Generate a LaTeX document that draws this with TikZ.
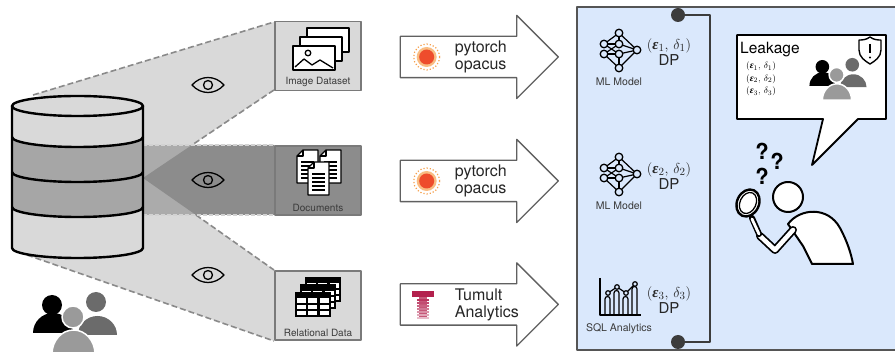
\documentclass[tikz,border=0pt]{standalone}
\usepackage{amsmath}
\usepackage{fontspec}
\setmainfont{TeX Gyre Heros}
\newfontfamily\greekserif{Liberation Serif}
\usetikzlibrary{arrows.meta,positioning,shapes.arrows}

\definecolor{paneblue}{HTML}{DAE8FC}
\definecolor{paneedge}{HTML}{555555}
\definecolor{funnellight}{HTML}{D9D9D9}
\definecolor{funnelmid}{HTML}{ABABAB}
\definecolor{funneldark}{HTML}{8C8C8C}
\definecolor{banddark}{HTML}{A6A6A6}
\definecolor{boxedge}{HTML}{7A7A7A}
\definecolor{dashgray}{HTML}{8A8A8A}
\definecolor{torchred}{HTML}{EE4C2C}
\definecolor{torchring}{HTML}{F6A04D}
\definecolor{tumultred}{HTML}{B3204D}
\definecolor{labelgray}{HTML}{3A3A3A}
\definecolor{bracketgray}{HTML}{3C3C3C}
\definecolor{crowddark}{HTML}{6B6B6B}
\definecolor{crowdmid}{HTML}{9A9A9A}

\newcommand{\epsdelta}[1]{$($\hbox{\greekserif\bfseries\itshape ε}$_{#1},\,\delta_{#1})$}

\tikzset{
  leakpicture/.style={x=1pt, y=-1pt, line join=round},
  funnelline/.style={draw=dashgray, line width=1.6pt, dash pattern=on 6pt off 3pt},
  splitline/.style={draw=gray!35, line width=1.4pt, dash pattern=on 4pt off 2pt},
  dbline/.style={draw=black, line width=2.4pt},
  srcbox/.style={draw=boxedge, line width=1.6pt, minimum width=86pt, minimum height=69pt, inner sep=0pt},
  srclabel/.style={font=\fontsize{10}{11}\selectfont, text=labelgray, inner sep=1pt},
  iconline/.style={draw=black, line width=1.4pt, fill=white},
  dparrow/.style={single arrow, draw=gray!75!black, fill=white, line width=1.3pt, minimum height=158pt, single arrow head extend=21pt, single arrow tip angle=90, inner xsep=0pt, inner ysep=20pt},
  toolname/.style={font=\fontsize{16}{17}\selectfont, align=left, anchor=west, inner sep=0pt, text=black!85},
  dplabel/.style={font=\fontsize{15}{16}\selectfont, align=center, inner sep=0pt, text=black!85},
  resname/.style={font=\fontsize{10.5}{12}\selectfont, text=labelgray, inner sep=0pt},
  bracketline/.style={draw=bracketgray, line width=2pt},
  askmark/.style={font=\fontsize{22}{22}\selectfont\bfseries, inner sep=0pt},
  eyeicon/.pic={
    \draw[line width=1.3pt] (-16,0) .. controls (-7,-10) and (7,-10) .. (16,0) .. controls (7,10) and (-7,10) .. (-16,0) -- cycle;
    \draw[line width=1.3pt] (0,0) circle (4.5);
  },
  crowd/.pic={
    \fill[black] (-23,-15) circle (10);
    \fill[black] (-42,13) arc[start angle=180, end angle=360, x radius=20, y radius=20] -- cycle;
    \fill[crowddark] (21,-18) circle (10);
    \fill[crowddark] (3,15) arc[start angle=180, end angle=360, x radius=19.5, y radius=19] -- cycle;
    \filldraw[crowdmid, draw=white, line width=1.5pt] (-23,34) arc[start angle=180, end angle=360, x radius=21.5, y radius=24] -- cycle;
    \filldraw[crowdmid, draw=white, line width=1.5pt] (-2,-3) circle (11);
  },
  torchlogo/.pic={
    \draw[torchring, dotted, line width=1.2pt] (0,0) circle (13);
    \fill[torchring!70] (0,0) circle (10);
    \fill[torchred] (0,0) circle (7.5);
  },
  tumultlogo/.pic={
    \fill[tumultred] (-11,-13) rectangle (11,-7);
    \fill[tumultred!75] (-4,-7) rectangle (4,14);
    \foreach \k/\tint in {0/90,1/80,2/70,3/60,4/50,5/40,6/30}
      \fill[tumultred!\tint] (-6,-5+3*\k) rectangle (6,-3.5+3*\k);
  },
  imgicon/.pic={
    \foreach \dx/\dy in {-14/-21, -21/-12, -28/-3}
      \draw[iconline] (\dx,\dy) rectangle (\dx+42,\dy+24);
    \draw[line width=1.3pt] (-13,4) circle (2.8);
    \draw[line width=1.3pt] (-26,18) -- (-17,10) -- (-9,16) -- (-1,11) -- (12,19);
  },
  docsicon/.pic={
    \foreach \dx/\dy in {-22/-23, 1/-23, -11/-11} {
      \draw[iconline] (\dx+6,\dy) -- (\dx+21,\dy) -- (\dx+21,\dy+33) -- (\dx,\dy+33) -- (\dx,\dy+6) -- cycle;
      \draw[line width=1.2pt] (\dx,\dy+6) -- (\dx+6,\dy+6) -- (\dx+6,\dy);
      \foreach \ly in {12,16,20,24,28}
        \draw[line width=1.1pt] (\dx+4,\dy+\ly) -- (\dx+17,\dy+\ly);
    }
  },
  tableicon/.pic={
    \foreach \dx/\dy in {-15/-20, -20/-12.5, -25/-5} {
      \fill[black] (\dx,\dy) rectangle (\dx+36,\dy+25);
      \foreach \cx in {0,1,2}
        \foreach \cy in {0,1,2}
          \fill[white] (\dx+2.2+\cx*11.2,\dy+6.5+\cy*6.1) rectangle +(9,4.1);
    }
  },
  nnicon/.pic={
    \coordinate (nnT) at (1,-17);
    \coordinate (nnLa) at (-14,-6);
    \coordinate (nnMa) at (1,-6);
    \coordinate (nnLb) at (-14,4);
    \coordinate (nnMb) at (1,4);
    \coordinate (nnR) at (19,0);
    \coordinate (nnB) at (1,18);
    \foreach \a/\b in {nnT/nnLa, nnT/nnMa, nnT/nnR, nnLa/nnMa, nnLa/nnMb, nnLb/nnMa, nnLb/nnMb, nnMa/nnR, nnMb/nnR, nnLb/nnB, nnMb/nnB, nnB/nnR}
      \draw[line width=1.2pt] (\a) -- (\b);
    \foreach \n in {nnT, nnLa, nnMa, nnLb, nnMb, nnR, nnB}
      \draw[line width=1.3pt, fill=paneblue] (\n) circle (3.8);
  },
  charticon/.pic={
    \draw[line width=1.4pt] (-20,-19) -- (-20,18) -- (21,18);
    \foreach \bx/\by in {-15/2, -6/-4, 3/2, 12/-8}
      \draw[line width=1.2pt] (\bx,18) -- (\bx,\by) arc[start angle=180, end angle=360, radius=2.5] -- (\bx+5,18);
    \draw[line width=1.2pt] (-12,-4) -- (-3,-10) -- (6,-4) -- (15,-13);
    \foreach \px/\py in {-12/-4, -3/-10, 6/-4, 15/-13}
      \draw[line width=1.2pt, fill=paneblue] (\px,\py) circle (2.3);
  },
  shieldicon/.pic={
    \draw[line width=1.4pt, fill=white] (0,-13) .. controls (4,-10) and (8,-10) .. (11,-10) -- (11,0) .. controls (11,7) and (5,11) .. (0,14) .. controls (-5,11) and (-11,7) .. (-11,0) -- (-11,-10) .. controls (-8,-10) and (-4,-10) .. (0,-13) -- cycle;
    \draw[line width=1.5pt] (0,-6) -- (0,3);
    \fill (0,7.5) circle (1.2);
  }
}

\begin{document}
\begin{tikzpicture}[leakpicture]
\useasboundingbox (0,0) rectangle (895,352);

\fill[funnellight] (33,95) -- (274,22) -- (274,90) -- (143,178) -- (143,106) -- cycle;
\fill[funnellight] (143,178) -- (274,270) -- (274,341) -- (27,255) -- (143,248) -- cycle;
\fill[funnelmid] (143,145) rectangle (274,215);
\fill[funneldark] (143,178) -- (192,145) -- (274,145) -- (274,215) -- (196,215) -- cycle;
\draw[funnelline] (33,95) -- (274,22);
\draw[funnelline] (274,90) -- (192,145);
\draw[funnelline] (196,215) -- (274,270);
\draw[funnelline] (27,255) -- (274,341);
\draw[splitline] (143,145) -- (274,145);
\draw[splitline] (143,215) -- (274,215);

% database
\fill[funnellight] (12,106) -- (12,248) arc[start angle=180, end angle=0, x radius=65.5, y radius=10] -- (143,106) -- cycle;
\fill[banddark] (12,137) arc[start angle=180, end angle=0, x radius=65.5, y radius=10] -- (143,207) arc[start angle=0, end angle=180, x radius=65.5, y radius=10] -- cycle;
\draw[dbline, fill=funnellight] (77.5,106) ellipse[x radius=65.5, y radius=10];
\foreach \by in {137,172,207}
  \draw[dbline] (12,\by) arc[start angle=180, end angle=0, x radius=65.5, y radius=10];
\draw[dbline] (12,106) -- (12,248) arc[start angle=180, end angle=0, x radius=65.5, y radius=10] -- (143,106);

\pic at (75,320) {crowd};

\pic at (208,85) {eyeicon};
\pic at (208,180) {eyeicon};
\pic at (208,275) {eyeicon};

\node[srcbox, fill=funnellight] (imgbox) at (318,56) {};
\node[srcbox, fill=funneldark] (docbox) at (318,180.5) {};
\node[srcbox, fill=funnellight] (relbox) at (318,305.5) {};
\node[srclabel, above=3pt of imgbox.south] (imglabel) {Image Dataset};
\node[srclabel, above=3pt of docbox.south] (doclabel) {Documents};
\node[srclabel, above=3pt of relbox.south] (rellabel) {Relational Data};
\pic at (321,49) {imgicon};
\pic at (319,173) {docsicon};
\pic at (320,297) {tableicon};

\node[dparrow] (torchone) at (469,57) {};
\node[dparrow] (torchtwo) at (469,181) {};
\node[dparrow] (tumult) at (469,304.5) {};
\pic at ([xshift=27pt]torchone.west) {torchlogo};
\pic at ([xshift=27pt]torchtwo.west) {torchlogo};
\pic at ([xshift=23pt]tumult.west) {tumultlogo};
\node[toolname] (torchonetxt) at ([xshift=55pt]torchone.west) {pytorch\\opacus};
\node[toolname] (torchtwotxt) at ([xshift=55pt]torchtwo.west) {pytorch\\opacus};
\node[toolname] (tumulttxt) at ([xshift=55pt]tumult.west) {Tumult\\Analytics};

% release panel
\draw[draw=paneedge, line width=2pt, fill=paneblue] (577,7) rectangle (905,350);
\coordinate (brtop) at (678,15);
\coordinate (brbot) at (678,342);
\coordinate (brside) at (710,178);
\draw[bracketline] (brtop) -| (brside) |- (brbot);
\fill[bracketgray] (brtop) circle (7) (brbot) circle (7);

\pic at (618,50) {nnicon};
\node[dplabel] (dpone) at (669,52) {\epsdelta{1}\\DP};
\node[resname] (mlone) at (619,82) {ML Model};
\pic at (618,174) {nnicon};
\node[dplabel] (dptwo) at (669,176) {\epsdelta{2}\\DP};
\node[resname] (mltwo) at (619,206) {ML Model};
\pic at (620,297) {charticon};
\node[dplabel] (dpthree) at (669,300) {\epsdelta{3}\\DP};
\node[resname] (sqlres) at (619,329) {SQL Analytics};

% attacker
\draw[line width=1.8pt, fill=white] (737,35) -- (886,35) -- (886,119) -- (858,119) -- (812,165) -- (823,119) -- (737,119) -- cycle;
\node[font=\fontsize{15.5}{16}\selectfont, anchor=west, inner sep=0pt] (leaktitle) at (740,50) {Leakage};
\node[font=\fontsize{9.5}{12.5}\selectfont, align=left, anchor=north west, inner sep=0pt] (leaklist) at (746,62)
  {\epsdelta{1}\\\epsdelta{2}\\\epsdelta{3}};
\pic at (870,50) {shieldicon};
\pic[scale=0.68] at (838,77) {crowd};

\node[askmark] (askone) at (762,151) {?};
\node[askmark] (asktwo) at (777,161) {?};
\node[askmark] (askthree) at (762,176) {?};

\draw[line width=2pt, fill=white] (788,224) .. controls (800,208) and (828,206) .. (840,228) .. controls (847,241) and (851,253) .. (853,264) -- (812,264) -- (803,246) -- cycle;
\draw[line width=8pt, line cap=round] (793,230) -- (775,250) -- (760,236);
\draw[white, line width=4.5pt, line cap=round] (793,230) -- (775,250) -- (760,236);
\draw[line width=2pt, fill=white] (788,197) circle (15);
\draw[line width=6pt, line cap=round] (752,218) -- (759,234);
\draw[white, line width=2.8pt, line cap=round] (752,219) -- (759,234);
\draw[line width=2.4pt, fill=white, rotate around={-25:(748,203)}] (748,203) ellipse[x radius=11, y radius=14];
\draw[line width=1.3pt, rotate around={-25:(748,203)}] (748,203) ellipse[x radius=8, y radius=11];
\end{tikzpicture}
\end{document}
